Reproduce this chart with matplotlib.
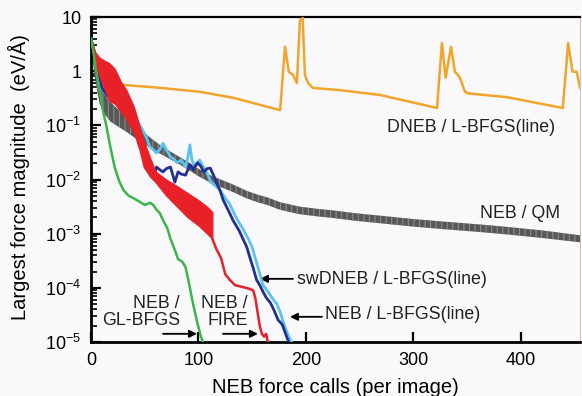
import numpy as np
import matplotlib
matplotlib.use("Agg")
import matplotlib.pyplot as plt
from matplotlib.ticker import FixedLocator, FixedFormatter, LogLocator, NullFormatter

plt.rcParams["font.family"] = ["Liberation Sans", "DejaVu Sans"]
plt.rcParams["mathtext.fontset"] = "custom"
plt.rcParams["mathtext.rm"] = "Liberation Sans"
plt.rcParams["hatch.linewidth"] = 0.8

# All force values are stored as log10(eV/Å)

# DNEB / L-BFGS(line)
dneb_x = [0, 6, 12, 18, 22, 27, 60, 101, 132, 176, 180.5, 184, 188, 191.6, 194.4, 197,
          199, 202, 206.5, 231.6, 269, 322, 326.5, 330, 335, 338.6, 343, 348, 351,
          387, 439, 444, 448, 452, 455]
dneb_log = [0.58, 0.2, -0.1, -0.33, -0.27, -0.25, -0.30, -0.38, -0.49, -0.72, 0.45, -0.01,
            -0.07, -0.22, 0.94, 0.98, -0.07, -0.22, -0.31, -0.35, -0.44, -0.68, 0.52,
            -0.12, 0.45, -0.01, -0.11, -0.38, -0.41, -0.48, -0.68, 0.52, -0.01, -0.01, -0.31]

# NEB / QM (oscillating; upper and lower envelopes)
qm_x = [0, 3, 8, 13, 18, 25, 33, 40, 48, 56, 64, 76, 89, 100, 111, 122, 133, 145, 155,
        164, 176, 194, 210, 225, 245, 265, 285, 300, 330, 362, 390, 420, 455]
qm_hi = [0.58, 0.25, -0.30, -0.44, -0.57, -0.70, -0.82, -0.96, -1.11, -1.24, -1.36, -1.51,
         -1.66, -1.80, -1.92, -2.01, -2.10, -2.21, -2.28, -2.33, -2.42, -2.50, -2.54, -2.57,
         -2.62, -2.66, -2.70, -2.73, -2.78, -2.83, -2.88, -2.94, -3.03]
qm_lo = [0.52, -0.05, -0.60, -0.80, -0.93, -1.02, -1.12, -1.22, -1.33, -1.42, -1.52, -1.65,
         -1.80, -1.94, -2.06, -2.15, -2.24, -2.35, -2.42, -2.47, -2.56, -2.64, -2.68, -2.71,
         -2.76, -2.80, -2.84, -2.87, -2.92, -2.97, -3.02, -3.08, -3.16]

# NEB / FIRE: noisy band first, then a single line
fire_band_x = [0, 4, 8, 12, 17, 22, 28, 33, 40, 45, 49, 55, 60, 70, 80, 90, 100, 108, 113]
fire_band_hi = [0.58, 0.35, 0.25, 0.2, 0.15, 0.05, -0.2, -0.35, -0.66, -1.0, -1.27, -1.6,
                -1.85, -2.0, -2.12, -2.25, -2.38, -2.5, -2.6]
fire_band_lo = [0.58, 0.15, -0.1, -0.3, -0.55, -0.6, -0.75, -0.9, -1.14, -1.45, -1.77, -1.95,
                -2.05, -2.3, -2.5, -2.7, -2.85, -3.0, -3.1]
fire_x = [113, 117, 121, 125, 129, 134, 140, 148, 151, 153, 155, 157, 159, 161, 163, 165]
fire_log = [-3.1, -3.3, -3.45, -3.75, -3.85, -3.95, -3.98, -4.02, -4.05, -4.2, -4.45, -4.7,
            -4.85, -4.9, -4.85, -5.05]

# NEB / GL-BFGS
gl_x = [0, 2, 4, 6, 8.5, 11, 14, 18, 22, 26, 30, 35, 40, 46, 50, 55, 58, 61, 64, 67, 71,
        74, 78, 81, 85, 88, 91, 95, 99, 102, 105]
gl_log = [0.6, 0.4, 0.1, -0.15, -0.4, -0.72, -0.98, -1.4, -1.77, -2.02, -2.19, -2.3, -2.35,
          -2.42, -2.47, -2.43, -2.47, -2.56, -2.62, -2.75, -2.9, -3.1, -3.3, -3.47, -3.52,
          -3.62, -3.9, -4.3, -4.65, -4.88, -5.05]

# NEB / L-BFGS(line)
lbfgs_x = [0, 5, 10, 15, 20, 28, 35, 40, 43, 46, 49, 52, 55, 58, 61, 64, 67, 70, 74, 78,
           81, 84, 88, 92, 95, 99, 102, 105, 108, 111, 114, 117, 120, 123, 126, 129, 132,
           135, 138, 141, 145, 148, 151, 154, 157, 160, 163, 167, 170, 174, 178, 182, 185]
lbfgs_log = [0.6, 0.2, -0.3, -0.45, -0.52, -0.6, -0.72, -0.85, -0.96, -1.2, -1.45, -1.64,
             -1.8, -1.97, -1.77, -1.82, -1.86, -1.8, -1.77, -2.05, -1.86, -1.9, -1.92, -1.73,
             -1.82, -1.69, -1.75, -1.86, -1.8, -1.79, -1.92, -2.07, -2.2, -2.38, -2.5, -2.62,
             -2.75, -2.85, -2.95, -3.08, -3.25, -3.45, -3.64, -3.85, -3.95, -4.07, -4.18,
             -4.28, -4.4, -4.59, -4.68, -4.9, -5.05]

# swDNEB / L-BFGS(line)
sw_x = [0, 10, 20, 30, 36, 40, 44, 48, 52, 55, 58, 61, 64, 67, 70, 74, 77, 80, 84, 88, 90,
        92, 94, 97, 101, 104, 108, 112, 116, 120, 125, 129, 133, 137, 141, 146, 150, 155,
        160, 164, 169, 173, 176, 180, 184, 188]
sw_log = [0.6, -0.3, -0.45, -0.6, -0.72, -0.82, -0.95, -1.08, -1.25, -1.4, -1.45, -1.51,
          -1.45, -1.33, -1.45, -1.58, -1.62, -1.69, -1.64, -1.77, -1.6, -1.36, -1.65, -1.77,
          -1.64, -1.75, -1.88, -2.06, -2.12, -2.19, -2.35, -2.45, -2.62, -2.77, -2.9, -3.08,
          -3.25, -3.6, -3.95, -4.05, -4.2, -4.3, -4.45, -4.7, -4.9, -5.05]

y_ticks = [1e-5, 1e-4, 1e-3, 1e-2, 1e-1, 1, 10]
y_labels = [r"$\mathregular{10^{-5}}$", r"$\mathregular{10^{-4}}$", r"$\mathregular{10^{-3}}$",
            r"$\mathregular{10^{-2}}$", r"$\mathregular{10^{-1}}$", "1", "10"]
x_ticks = [0, 100, 200, 300, 400]

bg = "#f9f9fc"
fig = plt.figure(figsize=(5.82, 3.96), dpi=100, facecolor=bg)
ax = fig.add_axes([91 / 582, 54 / 396, 489 / 582, 325 / 396])
ax.set_facecolor(bg)

def p10(v):
    return 10.0 ** np.asarray(v)

ax.fill_between(qm_x, p10(qm_lo), p10(qm_hi), facecolor="#585858", edgecolor="#8c8c8c",
                lw=0.0, hatch="|||", zorder=2)
ax.plot(dneb_x, p10(dneb_log), color="#f2a42a", lw=1.8, zorder=3)
ax.plot(sw_x, p10(sw_log), color="#5cc3ea", lw=2.0, zorder=4)
ax.plot(lbfgs_x, p10(lbfgs_log), color="#22308f", lw=2.0, zorder=5)
ax.fill_between(fire_band_x, p10(fire_band_lo), p10(fire_band_hi), color="#e82128",
                lw=0.8, zorder=6)
ax.plot(fire_x, p10(fire_log), color="#e82128", lw=1.8, zorder=6)
ax.plot(gl_x, p10(gl_log), color="#3bb54a", lw=1.8, zorder=7)

ax.set_yscale("log")
ax.set_xlim(0, 455)
ax.set_ylim(1e-5, 10)

ax.yaxis.set_major_locator(FixedLocator(y_ticks))
ax.yaxis.set_major_formatter(FixedFormatter(y_labels))
ax.yaxis.set_minor_locator(LogLocator(base=10, subs=np.arange(2, 10)))
ax.yaxis.set_minor_formatter(NullFormatter())
ax.set_xticks(x_ticks)
ax.tick_params(axis="both", which="major", direction="in", length=7, width=1.6,
               labelsize=13, pad=7)
ax.tick_params(axis="y", which="minor", direction="in", length=4, width=1.2)
ax.tick_params(top=False, right=False)

for side in ("left", "bottom"):
    ax.spines[side].set_linewidth(2.0)
ax.spines["top"].set_linewidth(1.6)
ax.spines["right"].set_linewidth(0.6)
ax.spines["right"].set_color("#c9b9a8")

ax.set_xlabel("NEB force calls (per image)", fontsize=14.5)
ax.set_ylabel("Largest force magnitude  (eV/Å)", fontsize=14.5)
ax.xaxis.set_label_coords(0.5, -0.112)
ax.yaxis.set_label_coords(-0.125, 0.508)

fs = 12.8
ax.text(275.3, 10 ** -1.048, "DNEB / L-BFGS(line)", fontsize=fs, ha="left", va="center",
        color="#222")
ax.text(361.9, 10 ** -2.635, "NEB / QM", fontsize=fs, ha="left", va="center", color="#222")

arrow = dict(arrowstyle="-|>", color="k", lw=1.3, mutation_scale=11, shrinkA=0, shrinkB=0)
ax.annotate("", xy=(157.2, 10 ** -3.834), xytext=(187.9, 10 ** -3.834), arrowprops=arrow)
ax.text(191.6, 10 ** -3.85, "swDNEB / L-BFGS(line)", fontsize=fs, ha="left", va="center",
        color="#222")
ax.annotate("", xy=(185.1, 10 ** -4.535), xytext=(214.9, 10 ** -4.535), arrowprops=arrow)
ax.text(217.7, 10 ** -4.498, "NEB / L-BFGS(line)", fontsize=fs, ha="left", va="center",
        color="#222")

ax.text(82.8, 10 ** -4.443, "NEB /\nGL-BFGS", fontsize=fs, ha="right", va="center",
        multialignment="right", linespacing=1.0, color="#222")
ax.annotate("", xy=(98.6, 10 ** -4.849), xytext=(67, 10 ** -4.849), arrowprops=arrow)
ax.text(146, 10 ** -4.443, "NEB /\nFIRE", fontsize=fs, ha="right", va="center",
        multialignment="right", linespacing=1.0, color="#222")
ax.annotate("", xy=(155.3, 10 ** -4.849), xytext=(122.8, 10 ** -4.849), arrowprops=arrow)

fig.savefig("out.png", dpi=100, facecolor=bg)
